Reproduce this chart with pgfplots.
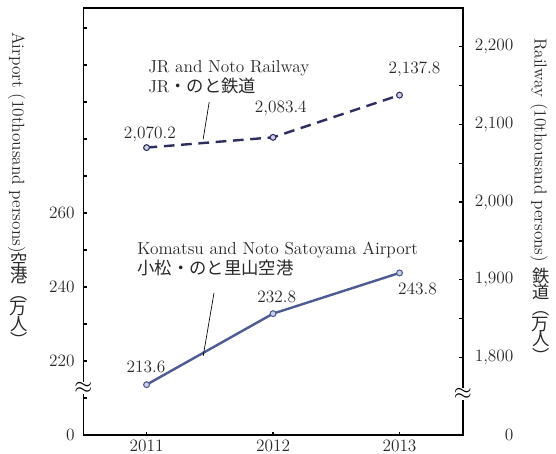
\documentclass[border=0pt]{standalone}
\usepackage{fontspec}
\usepackage{graphicx}
\usepackage{pgfplots}
\pgfplotsset{compat=1.18}
\newfontfamily\cjk{Noto Sans CJK JP}
\definecolor{airline}{RGB}{77,90,148}
\definecolor{railline}{RGB}{45,46,94}
\definecolor{markfill}{RGB}{205,208,232}
\definecolor{txt}{RGB}{40,40,40}
\newcommand{\lbl}{\fontsize{13}{15}\selectfont}
\newcommand{\up}[1]{\rotatebox[origin=c]{90}{\cjk #1}}

\pgfplotsset{
  base/.style={
    scale only axis, width=284.55pt, height=320.25pt,
    xmin=2010.5, xmax=2013.5,
    at={(0,0)}, anchor=south west,
    tick align=inside,
    major tick length=2.5pt, minor tick length=2.5pt,
    tick style={black, line width=0.9pt},
    axis line style={line width=1.2pt},
    tick label style={font=\lbl, text=txt},
  }
}

\begin{document}
\begin{tikzpicture}
\useasboundingbox (-62.5pt,-13.5pt) rectangle (354.5pt,326.25pt);

% left axis: airport
\begin{axis}[base,
  ytick pos=left, xtick pos=bottom,
  xtick={2011,2012,2013}, xticklabels={2011,2012,2013},
  ymin=200, ymax=315.4,
  ytick={200,220,240,260}, yticklabels={0,220,240,260},
  minor ytick={210,230,250,270,280,290,300,310},
  yticklabel style={xshift=-3pt},
]
\addplot[airline, line width=1.8pt, mark=*, mark size=2.2pt,
  mark options={solid, fill=markfill, draw=airline, line width=0.8pt}]
  coordinates {(2011,213.6) (2012,232.8) (2013,243.8)};
\node[font=\lbl, text=txt, xshift=-0.5pt, yshift=13.3pt] at (axis cs:2011,213.6) {213.6};
\node[font=\lbl, text=txt, xshift=2.8pt, yshift=12.75pt] at (axis cs:2012,232.8) {232.8};
\node[font=\lbl, text=txt, xshift=13.5pt, yshift=-12.2pt] at (axis cs:2013,243.8) {243.8};
\end{axis}

% right axis: railway
\begin{axis}[base,
  hide x axis, axis y line*=right,
  ymin=1700, ymax=2250,
  ytick={1700,1800,1900,2000,2100,2200},
  yticklabels={0,1{,}800,1{,}900,2{,}000,2{,}100,2{,}200},
  minor ytick={1850,1950,2050,2150},
  yticklabel style={text width=32pt, align=right, xshift=2.5pt},
]
\addplot[railline, line width=1.8pt, dash pattern=on 8pt off 5pt, mark=*, mark size=2.2pt,
  mark options={solid, fill=markfill, draw=railline, line width=0.8pt}]
  coordinates {(2011,2070.2) (2012,2083.4) (2013,2137.8)};
\node[font=\lbl, text=txt, xshift=2.5pt, yshift=9.75pt] at (axis cs:2011,2070.2) {2,070.2};
\node[font=\lbl, text=txt, xshift=5.8pt, yshift=21.5pt] at (axis cs:2012,2083.4) {2,083.4};
\node[font=\lbl, text=txt, xshift=11.25pt, yshift=19pt] at (axis cs:2013,2137.8) {2,137.8};
\end{axis}

% axis breaks
\node[fill=white, inner xsep=0.5pt, inner ysep=0.5pt, font=\fontsize{16}{16}\selectfont] at (0pt,35.25pt) {$\approx$};
\node[fill=white, inner xsep=0.5pt, inner ysep=0.5pt, font=\fontsize{16}{16}\selectfont] at (284.55pt,30.75pt) {$\approx$};

% axis titles
\node[rotate=-90, anchor=west, inner sep=0, font=\lbl, text=txt] at (-48.98pt,302.25pt)
  {Airport (10thousand persons){\cjk\up{空}\up{港}（\up{万}\up{人}）}};
\node[rotate=-90, anchor=west, inner sep=0, font=\lbl, text=txt] at (342.5pt,297.75pt)
  {Railway (10thousand persons) {\cjk\up{鉄}\up{道}（\up{万}\up{人}）}};

% series callouts
\node[anchor=north west, align=left, inner sep=0, font=\lbl, text=txt] at (48.5pt,281.25pt)
  {JR and Noto Railway\\JR{\cjk ・のと鉄道}};
\draw[black, line width=0.5pt] (94.4pt,249.75pt) -- (89.9pt,222pt);
\node[anchor=north west, align=left, inner sep=0, font=\lbl, text=txt] at (40.3pt,144.75pt)
  {Komatsu and Noto Satoyama Airport\\{\cjk 小松・のと里山空港}};
\draw[black, line width=0.5pt] (98pt,106.5pt) -- (89.9pt,59.25pt);
\end{tikzpicture}
\end{document}
